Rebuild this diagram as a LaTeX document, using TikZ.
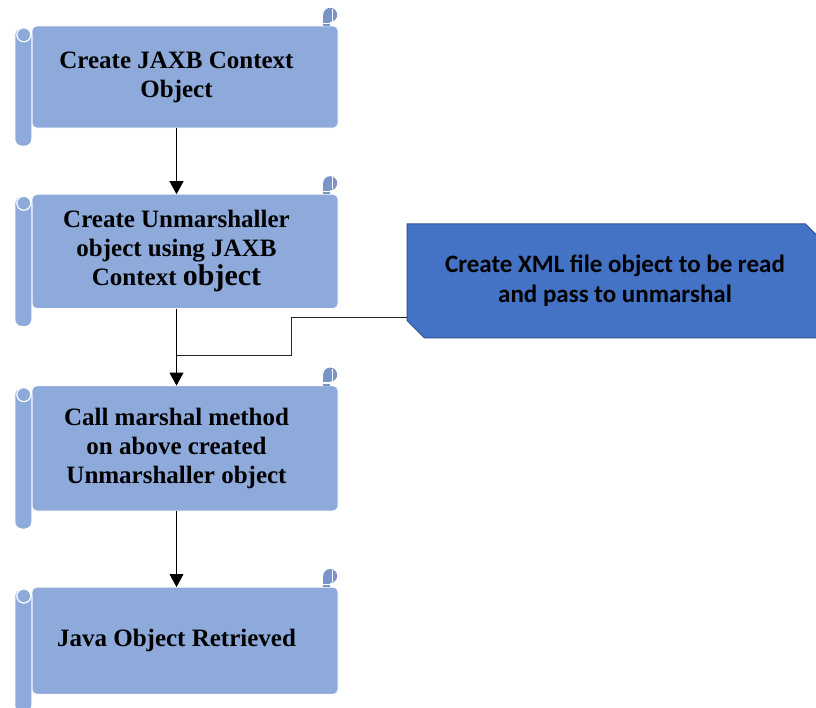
\documentclass[tikz,border=0pt]{standalone}
\usepackage{fontspec}
\setmainfont{Liberation Serif}
\newfontfamily\calibri{Carlito}
\usetikzlibrary{arrows.meta, positioning, shapes.misc, calc, backgrounds}
\definecolor{ScrollBlue}{HTML}{8EAADB}
\definecolor{ScrollShade}{HTML}{7A94CA}
\definecolor{CalloutBlue}{HTML}{4472C4}
\definecolor{CalloutEdge}{HTML}{2F528F}

\begin{document}
\begin{tikzpicture}[
    x=1pt, y=-1pt,
    scroll/.style = {rectangle, minimum width=323pt, align=center, inner sep=0pt, font=\fontsize{25}{29}\selectfont\bfseries, text=black},
    callout/.style = {chamfered rectangle, chamfered rectangle corners={north east, south west}, chamfered rectangle xsep=9pt, chamfered rectangle ysep=8.5pt, draw=CalloutEdge, fill=CalloutBlue, line width=1pt, minimum width=416pt, minimum height=114pt, inner sep=0pt, align=center, font=\calibri\fontsize{25}{30}\selectfont\bfseries, text=black},
    arrow/.style = {draw, -{Triangle[width=14pt, length=13pt]}, line width=0.8pt, black},
    link/.style = {draw, line width=0.8pt, black!85}
]
\useasboundingbox (0,0) rectangle (816,708);

\node [scroll, minimum height=102pt] (ctx) at (176.5,77) {Create JAXB Context\\Object};
\node [scroll, minimum height=114pt, below=66pt of ctx] (unm) {Create Unmarshaller\\object using JAXB\\Context {\fontsize{30}{29}\selectfont object}};
\node [scroll, minimum height=125pt, below=77pt of unm] (call) {Call marshal method\\on above created\\Unmarshaller object};
\node [scroll, minimum height=107pt, below=76pt of call] (obj) {Java Object Retrieved};
\node [callout] (xml) at (615,281) {Create XML file object to be read\\and pass to unmarshal};

% scroll outlines behind the texts
\begin{scope}[on background layer]
\foreach \n in {ctx, unm, call, obj} {
    \draw [fill=ScrollBlue, draw=white, line width=1pt, rounded corners=5pt] ($(\n.north west)+(17,0)$) rectangle (\n.south east);
    \draw [fill=ScrollBlue, draw=white, line width=1pt, rounded corners=7pt] ($(\n.north west)+(0,2)$) rectangle ($(\n.south west)+(17,18)$);
    \draw [fill=ScrollBlue, draw=white, line width=1.2pt] ($(\n.north west)+(9,9)$) circle (7pt);
    \fill [ScrollShade] ($(\n.north east)+(-8,-11)$) circle (7pt);
    \fill [ScrollShade] ($(\n.north east)+(-15,-11)$) rectangle ($(\n.north east)+(-8,0)$);
    \draw [white, line width=1.3pt] ($(\n.north east)+(-6,-17)$) -- ($(\n.north east)+(-6,-5)$);
    \draw [white, line width=1.3pt] ($(\n.north east)+(-15,-2.5)$) -- ($(\n.north east)+(-8,-2.5)$);
}
\end{scope}

\draw [arrow] (ctx) -- (unm);
\draw [arrow] (unm) -- (call);
\draw [arrow] (call) -- (obj);
\coordinate (tap) at ($(xml.west)+(0,36)$);
\coordinate (meet) at ($(unm.south)!0.61!(call.north)$);
\draw [link] (tap) -- ++(-115,0) |- (meet);
\end{tikzpicture}
\end{document}
